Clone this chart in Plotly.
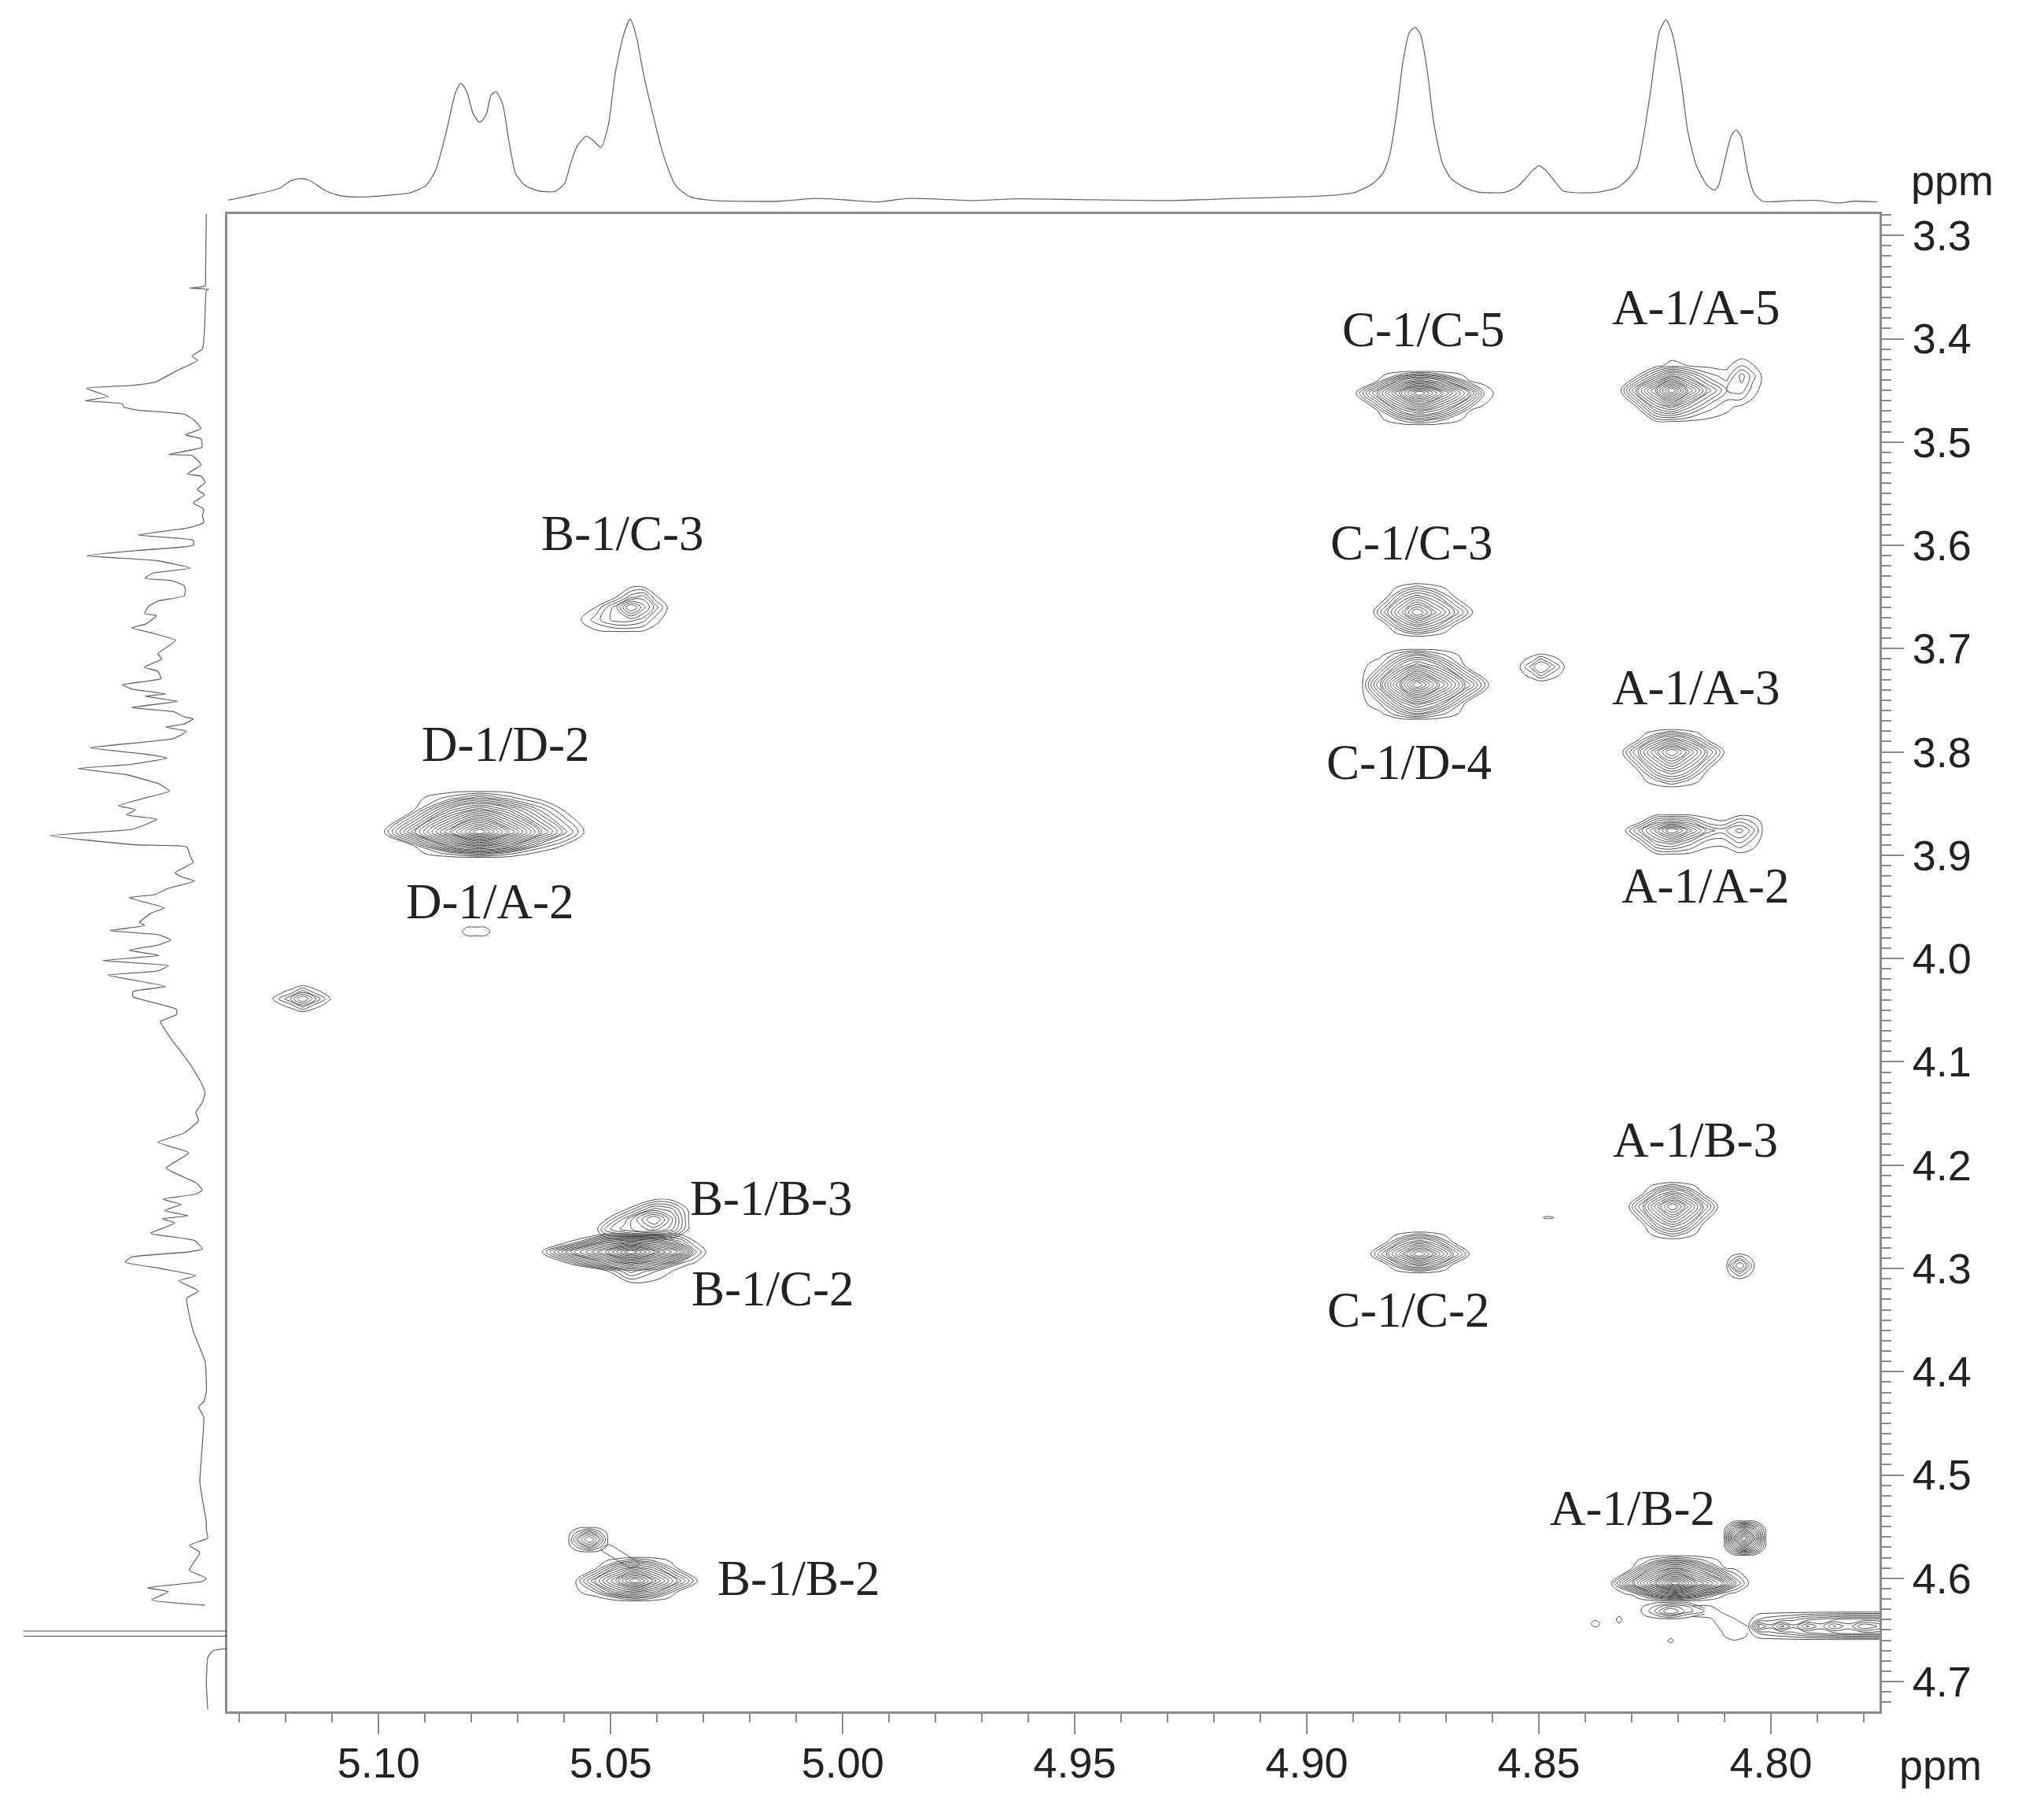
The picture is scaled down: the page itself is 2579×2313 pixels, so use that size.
import plotly.graph_objects as go

# ---------- axis ticks / ranges (ppm) ----------
X_RANGE = [5.1326, 4.7766]
Y_RANGE = [4.729, 3.279]

# ---------- peak labels ----------
label_text = ["C-1/C-5", "A-1/A-5", "B-1/C-3", "C-1/C-3", "C-1/D-4", "A-1/A-3", "A-1/A-2", "D-1/D-2",
              "D-1/A-2", "B-1/B-3", "B-1/C-2", "C-1/C-2", "A-1/B-3", "A-1/B-2", "B-1/B-2"]
label_x = [4.8749, 4.8162, 5.0474, 4.8774, 4.8780, 4.8162, 4.8142, 5.0727,
           5.0760, 5.0153, 5.0150, 4.8780, 4.8162, 4.8298, 5.0095]
label_y = [3.3913, 3.3700, 3.5888, 3.5975, 3.8100, 3.7375, 3.930, 3.7925,
           3.945, 4.2325, 4.320, 4.340, 4.176, 4.5325, 4.600]

# ---------- top 1H projection ----------
top_ppm = [5.1324, 5.1282, 5.1212, 5.1191, 5.1170, 5.1149, 5.1114, 5.1086, 5.1045, 5.0975, 5.0933, 5.0898,
           5.0877, 5.0856, 5.0835, 5.0823, 5.0810, 5.0796, 5.0782, 5.0768, 5.0758, 5.0747, 5.0733, 5.0719,
           5.0705, 5.0684, 5.0656, 5.0621, 5.0600, 5.0586, 5.0572, 5.0552, 5.0538, 5.0521, 5.0505, 5.0490,
           5.0472, 5.0458, 5.0444, 5.0430, 5.0409, 5.0388, 5.0360, 5.0328, 5.0276, 5.0136, 5.0060, 4.9997,
           4.9927, 4.9857, 4.9717, 4.9622, 4.9500, 4.9300, 4.9150, 4.9030,
           4.8935, 4.8897, 4.8859, 4.8836, 4.8822, 4.8807, 4.8793, 4.8779, 4.8767, 4.8755, 4.8741, 4.8727,
           4.8708, 4.8689, 4.8661, 4.8633, 4.8576, 4.8548, 4.8529, 4.8514, 4.8500, 4.8486, 4.8467, 4.8448,
           4.8406, 4.8368, 4.8330, 4.8307, 4.8288, 4.8274, 4.8259, 4.8240, 4.8226, 4.8212, 4.8193, 4.8179,
           4.8160, 4.8137, 4.8122, 4.8113, 4.8099, 4.8085, 4.8075, 4.8064, 4.8051, 4.8037, 4.8018, 4.7952,
           4.7896, 4.7858, 4.7820, 4.7771]
top_int = [3, 15, 38, 58, 65, 60, 30, 17, 12, 18, 24, 45, 90, 190, 310, 340, 315, 250, 227, 250, 305, 315,
           280, 170, 80, 45, 30, 28, 50, 110, 160, 187, 175, 155, 220, 370, 480, 524, 470, 370, 250, 140, 45,
           12, 2, 0, 8, 4, -2, 8, 2, 7, 5, 2, 8, 12,
           18, 25, 50, 80, 130, 250, 400, 485, 500, 480, 380, 230, 110, 65, 40, 27, 25, 40, 65, 88, 102, 90,
           60, 30, 24, 27, 40, 65, 100, 190, 320, 490, 522, 480, 340, 200, 100, 45, 32, 45, 120, 190, 205,
           185, 90, 25, 0, 2, 2, -5, 0, -2]

# ---------- left 1H projection ----------
left_ppm_a = [3.279, 3.313, 3.337, 3.349, 3.351, 3.352, 3.353, 3.391, 3.410, 3.414, 3.417, 3.421, 3.430, 3.442,
              3.445, 3.448, 3.456, 3.460, 3.463, 3.466, 3.469, 3.473, 3.478, 3.487, 3.493, 3.497, 3.505, 3.512,
              3.513, 3.522, 3.531, 3.533, 3.539, 3.546, 3.551, 3.559, 3.565, 3.571, 3.578, 3.583, 3.590, 3.595,
              3.600, 3.605, 3.610, 3.615, 3.622, 3.627, 3.632, 3.634, 3.639, 3.644, 3.649, 3.654, 3.659, 3.666,
              3.668, 3.676, 3.680, 3.685, 3.692, 3.705, 3.710, 3.718, 3.722, 3.729, 3.735, 3.739, 3.744, 3.746,
              3.751, 3.757, 3.761, 3.766, 3.768, 3.773, 3.776, 3.780, 3.787, 3.796, 3.802, 3.806, 3.812, 3.816,
              3.822, 3.829, 3.831, 3.838, 3.844, 3.852, 3.856, 3.861, 3.865, 3.870, 3.875, 3.881, 3.890, 3.892,
              3.902, 3.907, 3.912, 3.917, 3.921, 3.925, 3.932, 3.938, 3.941, 3.951, 3.956, 3.965, 3.968, 3.973,
              3.977, 3.982, 3.987, 3.992, 3.997, 4.002, 4.007, 4.012, 4.016,
              4.027, 4.032, 4.037, 4.049, 4.054, 4.061, 4.074, 4.103, 4.120, 4.130, 4.139, 4.149, 4.157, 4.169,
              4.178, 4.188, 4.203, 4.217, 4.224, 4.228, 4.233, 4.238, 4.244, 4.249, 4.252, 4.256, 4.266, 4.273,
              4.281, 4.284, 4.289, 4.294, 4.300, 4.307, 4.312, 4.322, 4.329, 4.361, 4.390, 4.419, 4.429, 4.434,
              4.444, 4.507, 4.546, 4.553, 4.561, 4.568, 4.575, 4.592, 4.600, 4.603, 4.609, 4.613, 4.621, 4.626]
left_int_a = [5, 7, 8, 10, 68, -5, 5, 12, 20, 45, 60, 38, 110, 200, 280, 462, 378, 468, 325, 320, 270, 90, 55, 25,
              85, 25, 22, 150, 60, 25, 78, 25, 10, 40, 12, 55, 15, 20, 15, 70, 265, 55, 55, 270, 462, 190, 65, 210,
              240, 140, 90, 85, 90, 190, 225, 240, 195, 235, 290, 210, 122, 190, 175, 242, 190, 178, 325, 290, 160,
              240, 115, 290, 130, 90, 55, 90, 160, 80, 130, 448, 240, 155, 290, 495, 310, 210, 185, 145, 230, 340,
              275, 310, 195, 235, 290, 602, 270, 80, 65, 55, 90, 125, 100, 50, 150, 200, 300, 165, 215, 260, 240,
              372, 190, 140, 190, 300, 185, 400, 150, 190, 380, 160, 285,
              285, 120, 118, 180, 150, 65, 25, 10, 20, 45, 35, 90, 190, 72,
              158, 45, 20, 45, 172, 102, 165, 75, 172, 125, 218, 50, 20, 70,
              290, 315, 180, 45, 110, 35, 80, 55, 10, 5, 15, 35, 15, 30,
              5, 5, 0, 70, 30, 70, 5, 20, 230, 150, 215, 10, -40, -75]
left_ppm_b = [4.668, 4.670, 4.677, 4.702, 4.727]
left_int_b = [-75, -20, 0, 5, 0]
solvent_ppm_1 = [4.651, 4.651]
solvent_ppm_2 = [4.656, 4.656]
solvent_int = [-75, 703]

# ---------- contour tables: x runs left to right on screen, y top to bottom ----------
p01_x = [4.8897, 4.8848, 4.8800, 4.8758, 4.8707, 4.8648, 4.8618, 4.8588]
p01_y = [3.431, 3.4349, 3.4407, 3.4525, 3.4698, 3.4783, 3.484]
p01_z = [[0, 0, 0, 0, 0, 0, 0, 0], [0, 0, 1.6, 3.6, 1.6, 0, 0, 0], [0, 0.4, 6.4, 9, 6.4, 0.4, 0, 0],
         [0, 7, 14, 20, 14, 7, 1.5, 0], [0, 0.4, 6.4, 9, 6.4, 0.4, 0, 0], [0, 0, 1.6, 3.6, 1.6, 0, 0, 0], [0, 0, 0, 0, 0, 0, 0, 0]]

p02_x = [4.8326, 4.8290, 4.8248, 4.8214, 4.8180, 4.8135, 4.8095, 4.8063, 4.8040, 4.8014]
p02_y = [3.416, 3.426, 3.436, 3.450, 3.466, 3.481]
p02_z = [[0, 0, 0, 0, 0, 0, 0, 0, 0, 0], [0, 0, 0, 1, 0.5, 0.2, 0.2, 1.5, 0.6, 0], [0, 0.3, 4.5, 8, 5.5, 2, 1, 4, 2, 0],
         [0, 6, 12, 18, 12, 6, 2.5, 3, 1, 0], [0, 0.4, 6, 8, 5, 2, 0.8, 0.2, 0, 0], [0, 0, 0, 0, 0, 0, 0, 0, 0, 0]]

p03_x = [5.0574, 5.0533, 5.0490, 5.0457, 5.0430, 5.0403, 5.0373]
p03_y = [3.639, 3.650, 3.660, 3.672, 3.685]
p03_z = [[0, 0, 0, 0, 0, 0, 0], [0, 0, 0.3, 3, 4, 0.6, 0], [0, 0.5, 4, 9, 6, 3, 0], [0, 2, 4, 4, 3, 0.8, 0], [0, 0, 0, 0, 0, 0, 0]]

p04_x = [4.8860, 4.8826, 4.8792, 4.8763, 4.8726, 4.8682, 4.8638]
p04_y = [3.636, 3.6412, 3.649, 3.665, 3.678, 3.6847, 3.689]
p04_z = [[0, 0, 0, 0, 0, 0, 0], [0, 0, 1, 2.3, 1, 0, 0], [0, 0.3, 4.2, 5.9, 4.2, 0.3, 0], [0, 4.5, 9, 13, 9, 4.5, 0],
         [0, 0.3, 4.2, 5.9, 4.2, 0.3, 0], [0, 0, 1, 2.3, 1, 0, 0], [0, 0, 0, 0, 0, 0, 0]]

p05_x = [4.8883, 4.8841, 4.8799, 4.8763, 4.8715, 4.8660, 4.8604]
p05_y = [3.700, 3.7063, 3.7158, 3.735, 3.7537, 3.7629, 3.769]
p05_z = [[0, 0, 0, 0, 0, 0, 0], [0, 0.2, 2.5, 4.5, 2, 0, 0], [0, 1.5, 6.4, 9, 6.4, 0.4, 0], [0, 7, 14, 20, 14, 7, 0],
         [0, 1.5, 6.4, 9, 6.4, 0.4, 0], [0, 0.2, 2.5, 4.5, 2, 0, 0], [0, 0, 0, 0, 0, 0, 0]]

p06_x = [4.8546, 4.8515, 4.8496, 4.8470, 4.8440]
p06_y = [3.704, 3.711, 3.7175, 3.725, 3.7325]
p06_z = [[0, 0, 0, 0, 0], [0, 1, 3, 1, 0], [0, 3, 5, 3, 0], [0, 1, 3, 1, 0], [0, 0, 0, 0, 0]]

p07_x = [4.8323, 4.8285, 4.8247, 4.8214, 4.8179, 4.8138, 4.8097]
p07_y = [3.7775, 3.7816, 3.7876, 3.800, 3.8193, 3.8287, 3.835]
p07_z = [[0, 0, 0, 0, 0, 0, 0], [0, 0, 1.1, 2.5, 1.1, 0, 0], [0, 0.3, 4.5, 6.3, 4.5, 0.3, 0], [0, 5, 10, 14, 10, 5, 0],
         [0, 0.3, 4.5, 6.3, 4.5, 0.3, 0], [0, 0, 1.1, 2.5, 1.1, 0, 0], [0, 0, 0, 0, 0, 0, 0]]

p08_x = [4.8318, 4.8282, 4.8247, 4.8214, 4.8175, 4.8135, 4.8105, 4.8067, 4.8040, 4.8014]
p08_y = [3.860, 3.868, 3.876, 3.888, 3.900]
p08_z = [[0, 0, 0, 0, 0, 0, 0, 0, 0, 0], [0, 0.4, 4, 5, 4, 1, 0.6, 2.5, 1.5, 0], [0, 4, 8, 12, 8, 4, 3, 5, 3, 0],
         [0, 0.4, 4, 5, 3, 0.8, 0.7, 2.5, 1, 0], [0, 0, 0, 0, 0, 0, 0, 0, 0, 0]]

p09_x = [5.0992, 5.0922, 5.0845, 5.0783, 5.0720, 5.0650, 5.0600, 5.0552]
p09_y = [3.8375, 3.8447, 3.8555, 3.8775, 3.8913, 3.898, 3.9025]
p09_z = [[0, 0, 0, 0, 0, 0, 0, 0], [0, 0, 2, 4.3, 2, 0, 0, 0], [0, 0.5, 8, 11, 8, 3, 0.2, 0], [0, 8.4, 17, 24, 17, 9, 4, 0],
         [0, 0.5, 8, 11, 8, 2, 0.2, 0], [0, 0, 2, 4.3, 2, 0, 0, 0], [0, 0, 0, 0, 0, 0, 0, 0]]

p10_x = [5.0825, 5.0810, 5.0790, 5.0770, 5.0755]
p10_y = [3.9675, 3.9738, 3.980]
p10_z = [[0, 0, 0, 0, 0], [0, 1.4, 1.5, 1.4, 0], [0, 0, 0, 0, 0]]

p11_x = [5.1234, 5.1190, 5.1164, 5.1135, 5.1100]
p11_y = [4.025, 4.032, 4.039, 4.046, 4.0525]
p11_z = [[0, 0, 0, 0, 0], [0, 0.7, 3, 0.7, 0], [0, 3.5, 7, 3.5, 0], [0, 0.7, 3, 0.7, 0], [0, 0, 0, 0, 0]]

p12_x = [5.0652, 5.0585, 5.0510, 5.0457, 5.0400, 5.0350, 5.0320, 5.0290]
p12_y = [4.266, 4.275, 4.284, 4.296, 4.3025, 4.315]
p12_z = [[0, 0, 0, 0, 0, 0, 0, 0], [0, 0.6, 8, 10, 8, 4, 0.6, 0], [0, 8, 14, 20, 14, 10, 3, 0],
         [0, 0.4, 6, 9, 6, 1, 0.2, 0], [0, 0, 0.2, 4, 1.5, 0, 0, 0], [0, 0, 0, 0, 0, 0, 0, 0]]

p13_x = [5.0532, 5.0510, 5.0470, 5.0407, 5.0370, 5.0329]
p13_y = [4.2325, 4.243, 4.2525, 4.262, 4.272]
p13_z = [[0, 0, 0, 0, 0, 0], [0, 0, 0.3, 5, 4, 0], [0, 0.4, 4, 10, 6, 0], [0, 3, 5, 7, 5, 0], [0, 0, 0, 0, 0, 0]]

p14_x = [4.8866, 4.8828, 4.8790, 4.8758, 4.8724, 4.8685, 4.8646]
p14_y = [4.264, 4.268, 4.274, 4.286, 4.2965, 4.3016, 4.305]
p14_z = [[0, 0, 0, 0, 0, 0, 0], [0, 0, 1.1, 2.5, 1.1, 0, 0], [0, 0.3, 4.5, 6.3, 4.5, 0.3, 0], [0, 5, 10, 14, 10, 5, 0],
         [0, 0.3, 4.5, 6.3, 4.5, 0.3, 0], [0, 0, 1.1, 2.5, 1.1, 0, 0], [0, 0, 0, 0, 0, 0, 0]]

p15_x = [4.8309, 4.8275, 4.8241, 4.8212, 4.8182, 4.8147, 4.8111]
p15_y = [4.216, 4.2203, 4.2268, 4.240, 4.2579, 4.2667, 4.2725]
p15_z = [[0, 0, 0, 0, 0, 0, 0], [0, 0, 1.1, 2.5, 1.1, 0, 0], [0, 0.3, 4.5, 6.3, 4.5, 0.3, 0], [0, 5, 10, 14, 10, 5, 0],
         [0, 0.3, 4.5, 6.3, 4.5, 0.3, 0], [0, 0, 1.1, 2.5, 1.1, 0, 0], [0, 0, 0, 0, 0, 0, 0]]

p16_x = [4.8097, 4.8085, 4.8067, 4.8050, 4.8033]
p16_y = [4.285, 4.291, 4.2975, 4.304, 4.311]
p16_z = [[0, 0, 0, 0, 0], [0, 1, 3, 1, 0], [0, 3, 6, 3, 0], [0, 1, 3, 1, 0], [0, 0, 0, 0, 0]]

p17_x = [4.8496, 4.8480, 4.8462]
p17_y = [4.249, 4.2508, 4.2525]
p17_z = [[0, 0, 0], [0, 1.5, 0], [0, 0, 0]]

p18_x = [5.0579, 5.0533, 5.0487, 5.0448, 5.0406, 5.0358, 5.0309]
p18_y = [4.579, 4.5832, 4.5896, 4.6025, 4.6135, 4.6189, 4.6225]
p18_z = [[0, 0, 0, 0, 0, 0, 0], [0, 0, 1, 3, 1.5, 0, 0], [0, 0, 5, 7.2, 5.2, 0.4, 0], [0, 5.6, 11, 16, 11, 5.6, 0],
         [0, 1.5, 6, 7.2, 5.2, 0.5, 0], [0, 0.1, 1.5, 3, 1.5, 0, 0], [0, 0, 0, 0, 0, 0, 0]]

p19_x = [5.0593, 5.0570, 5.0546, 5.0525, 5.0504]
p19_y = [4.550, 4.556, 4.5625, 4.569, 4.575]
p19_z = [[0, 0, 0, 0, 0], [0, 2, 4.5, 2, 0], [0, 4.5, 8, 4.5, 0], [0, 2, 4.5, 2, 0], [0, 0, 0, 0, 0]]

p20_x = [5.0530, 5.0505, 5.0480, 5.0455, 5.0430]
p20_y = [4.565, 4.572, 4.579, 4.586, 4.592]
p20_z = [[0, 0, 0, 0, 0], [0, 1.4, 0.3, 0, 0], [0, 0.2, 1.4, 0.3, 0], [0, 0, 0.2, 1.4, 0], [0, 0, 0, 0, 0]]

p21_x = [4.8347, 4.8298, 4.8250, 4.8207, 4.8160, 4.8100, 4.8075, 4.8044]
p21_y = [4.5774, 4.5824, 4.5898, 4.605, 4.6147, 4.6194, 4.6226]
p21_z = [[0, 0, 0, 0, 0, 0, 0, 0], [0, 0, 2, 4, 2, 0, 0, 0], [0, 0.5, 7, 10, 7, 0.5, 0.1, 0], [0, 8, 15, 22, 15, 9, 3.5, 0],
         [0, 0.8, 7, 10, 7, 0.8, 0.1, 0], [0, 0, 2, 4, 2, 0, 0, 0], [0, 0, 0, 0, 0, 0, 0, 0]]

p22_x = [4.8102, 4.8080, 4.8058, 4.8034, 4.8010]
p22_y = [4.544, 4.552, 4.561, 4.570, 4.578]
p22_z = [[0, 0, 0, 0, 0], [0, 5, 9, 5, 0], [0, 9, 16, 9, 0], [0, 5, 9, 5, 0], [0, 0, 0, 0, 0]]

p23_x = [4.8050, 4.8027, 4.8002, 4.7976, 4.7950, 4.7922, 4.7893, 4.7864, 4.7832, 4.7800, 4.7750]
p23_y = [4.632, 4.640, 4.6465, 4.653, 4.660]
p23_z = [[0, 0, 0, 0, 0, 0, 0, 0, 0, 0, 0], [0, 1.5, 2.2, 2.7, 3.3, 4.2, 4.8, 5.4, 6, 6, 6], [0, 5.7, 3.9, 6.9, 4.8, 7.8, 5.9, 8.7, 6.8, 9.8, 7.5],
         [0, 1.5, 2.2, 2.7, 3.3, 4.2, 4.8, 5.4, 6, 6, 6], [0, 0, 0, 0, 0, 0, 0, 0, 0, 0, 0]]

p24_x = [4.8288, 4.8255, 4.8218, 4.8180, 4.8143]
p24_y = [4.6225, 4.628, 4.632, 4.636, 4.640]
p24_z = [[0, 0, 0, 0, 0], [0, 1.5, 4, 3, 0], [0, 2, 6, 3, 1.5], [0, 1, 3, 1, 0], [0, 0, 0, 0, 0]]

p25_x = [4.8170, 4.8130, 4.8105, 4.8080, 4.8050]
p25_y = [4.624, 4.632, 4.640, 4.648, 4.656, 4.662]
p25_z = [[0, 0, 0, 0, 0], [1.4, 1.4, 0.3, 0, 0], [0, 0.3, 1.4, 0.6, 0], [0, 0, 0.7, 1.4, 0.6], [0, 0, 0.3, 1.4, 0.4], [0, 0, 0, 0, 0]]

p26_x = [4.8392, 4.8378, 4.8364]
p26_y = [4.639, 4.644, 4.649]
p26_z = [[0, 0, 0], [0, 1.5, 0], [0, 0, 0]]

p27_x = [4.8336, 4.8327, 4.8318]
p27_y = [4.635, 4.640, 4.645]
p27_z = [[0, 0, 0], [0, 1.5, 0], [0, 0, 0]]

p28_x = [4.8225, 4.8216, 4.8207]
p28_y = [4.6575, 4.6605, 4.6635]
p28_z = [[0, 0, 0], [0, 1.5, 0], [0, 0, 0]]

peak_tables = [(p01_x, p01_y, p01_z), (p02_x, p02_y, p02_z), (p03_x, p03_y, p03_z), (p04_x, p04_y, p04_z),
               (p05_x, p05_y, p05_z), (p06_x, p06_y, p06_z), (p07_x, p07_y, p07_z), (p08_x, p08_y, p08_z),
               (p09_x, p09_y, p09_z), (p10_x, p10_y, p10_z), (p11_x, p11_y, p11_z), (p12_x, p12_y, p12_z),
               (p13_x, p13_y, p13_z), (p14_x, p14_y, p14_z), (p15_x, p15_y, p15_z), (p16_x, p16_y, p16_z),
               (p17_x, p17_y, p17_z), (p18_x, p18_y, p18_z), (p19_x, p19_y, p19_z), (p20_x, p20_y, p20_z),
               (p21_x, p21_y, p21_z), (p22_x, p22_y, p22_z), (p23_x, p23_y, p23_z), (p24_x, p24_y, p24_z),
               (p25_x, p25_y, p25_z), (p26_x, p26_y, p26_z), (p27_x, p27_y, p27_z), (p28_x, p28_y, p28_z)]

W, H = 2579, 2313
L, R, T, B = 281, 2381, 261, 2167
AXIS = "#8c8c8c"
TEXT = "#222222"
CONT = "#4d4d4d"
SPEC = "#6a6a6a"

fig = go.Figure()

for px, py, pz in peak_tables:
    top = max(max(r) for r in pz)
    fig.add_trace(go.Contour(x=px, y=py, z=pz, showscale=False, hoverinfo="skip",
                             contours=dict(start=0.5, end=top - 0.6, size=1, coloring="none"),
                             line=dict(color=CONT, width=1, smoothing=1.0)))

fig.add_trace(go.Scatter(x=top_ppm, y=top_int, mode="lines", xaxis="x2", yaxis="y2",
                         line=dict(color=SPEC, width=1.3, shape="spline", smoothing=0.6), hoverinfo="skip"))
for xv, yv in [(left_int_a, left_ppm_a), (left_int_b, left_ppm_b)]:
    fig.add_trace(go.Scatter(x=xv, y=yv, mode="lines", xaxis="x3", yaxis="y3",
                             line=dict(color=SPEC, width=1.3, shape="spline", smoothing=0.4), hoverinfo="skip"))
for xv, yv in [(solvent_int, solvent_ppm_1), (solvent_int, solvent_ppm_2)]:
    fig.add_trace(go.Scatter(x=xv, y=yv, mode="lines", xaxis="x3", yaxis="y3",
                             line=dict(color=SPEC, width=1.3), hoverinfo="skip"))

for t, xv, yv in zip(label_text, label_x, label_y):
    fig.add_annotation(text=t, x=xv, y=yv, xref="x", yref="y", showarrow=False,
                       font=dict(family="Liberation Serif", size=63, color=TEXT))
fig.add_annotation(text="ppm", x=2458 / W, y=1 - 2235 / H, xref="paper", yref="paper", showarrow=False,
                   xanchor="center", yanchor="middle",
                   font=dict(family="Liberation Sans", size=54, color=TEXT))
fig.add_annotation(text="ppm", x=2473 / W, y=1 - 218 / H, xref="paper", yref="paper", showarrow=False,
                   xanchor="center", yanchor="middle",
                   font=dict(family="Liberation Sans", size=54, color=TEXT))

fig.update_layout(
    width=W, height=H, margin=dict(l=0, r=0, t=0, b=0), autosize=False,
    paper_bgcolor="white", plot_bgcolor="white", showlegend=False,
    xaxis=dict(domain=[L / W, R / W], range=X_RANGE, tick0=5.0, dtick=0.05, tickformat=".2f",
               ticks="outside", ticklen=26, tickwidth=2, tickcolor=AXIS, ticklabelstandoff=-10,
               minor=dict(dtick=0.01, tick0=5.0, ticks="outside", ticklen=11, tickwidth=2, tickcolor=AXIS),
               showline=True, linecolor=AXIS, linewidth=3, mirror=True, showgrid=False, zeroline=False,
               tickfont=dict(family="Liberation Sans", size=54, color=TEXT), anchor="y"),
    yaxis=dict(domain=[1 - B / H, 1 - T / H], range=Y_RANGE, tick0=3.3, dtick=0.1, tickformat=".1f",
               side="right", ticks="outside", ticklen=28, tickwidth=2, tickcolor=AXIS,
               minor=dict(dtick=0.01, tick0=3.3, ticks="outside", ticklen=12, tickwidth=2, tickcolor=AXIS),
               showline=True, linecolor=AXIS, linewidth=3, mirror=True, showgrid=False, zeroline=False,
               tickfont=dict(family="Liberation Sans", size=54, color=TEXT), anchor="x"),
    xaxis2=dict(domain=[L / W, R / W], range=X_RANGE, visible=False, anchor="y2"),
    yaxis2=dict(domain=[1 - T / H, 1], range=[-36, 554], visible=False, anchor="x2"),
    xaxis3=dict(domain=[0, L / W], range=[768, -75], visible=False, anchor="y3"),
    yaxis3=dict(domain=[1 - B / H, 1 - T / H], range=Y_RANGE, visible=False, anchor="x3"),
)

fig.write_html("out.html")
